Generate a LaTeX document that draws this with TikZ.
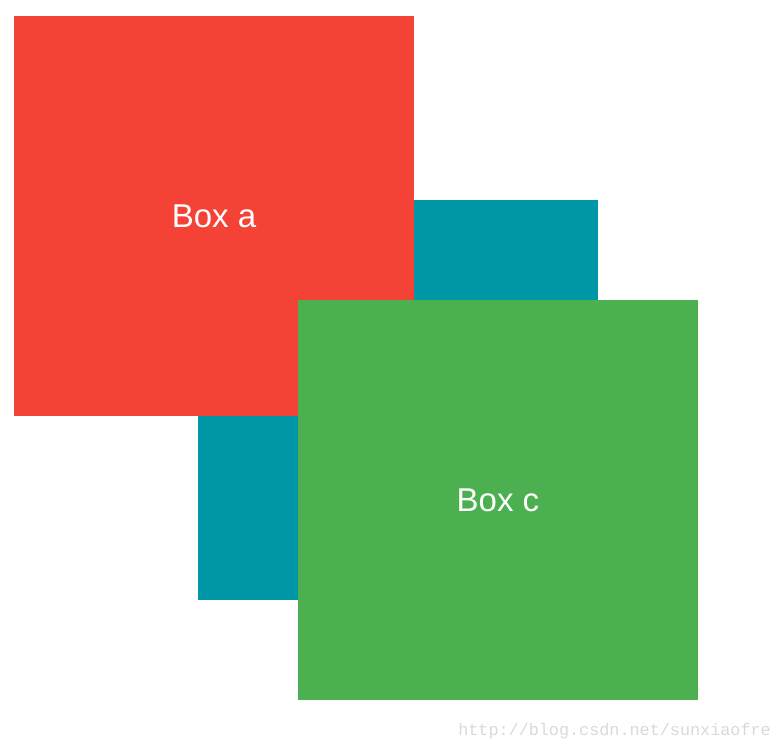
\documentclass[tikz,border=0pt]{standalone}
\usepackage{fontspec}
\setmainfont{Liberation Sans}
\newfontfamily\markfont{Liberation Mono}
\usetikzlibrary{positioning}
\definecolor{boxred}{HTML}{F44336}
\definecolor{boxteal}{HTML}{0097A7}
\definecolor{boxgreen}{HTML}{4CAF50}
\definecolor{markgray}{HTML}{D9D9D9}
\tikzset{%
  box/.style  = { fill = #1, draw = none, inner sep = 0pt, minimum width = 400pt,
                  minimum height = 400pt, text = white, font = \fontsize{33}{39}\selectfont },
  wmark/.style = { text = markgray, font = \markfont\fontsize{16.8}{20}\selectfont,
                   inner sep = 0pt, anchor = base east }
}

\begin{document}
\begin{tikzpicture}[x=1pt,y=-1pt]
\useasboundingbox (0,0) rectangle (782,748);
% b lies under a, c lies over both
\node(B) [box=boxteal]  at (398,400) {};
\node(A) [box=boxred]   at (214,216) {Box a};
\node(C) [box=boxgreen] at (498,500) {Box c};

\node(W) [wmark] at (771,735) {http://blog.csdn.net/sunxiaofre};
\end{tikzpicture}
\end{document}
